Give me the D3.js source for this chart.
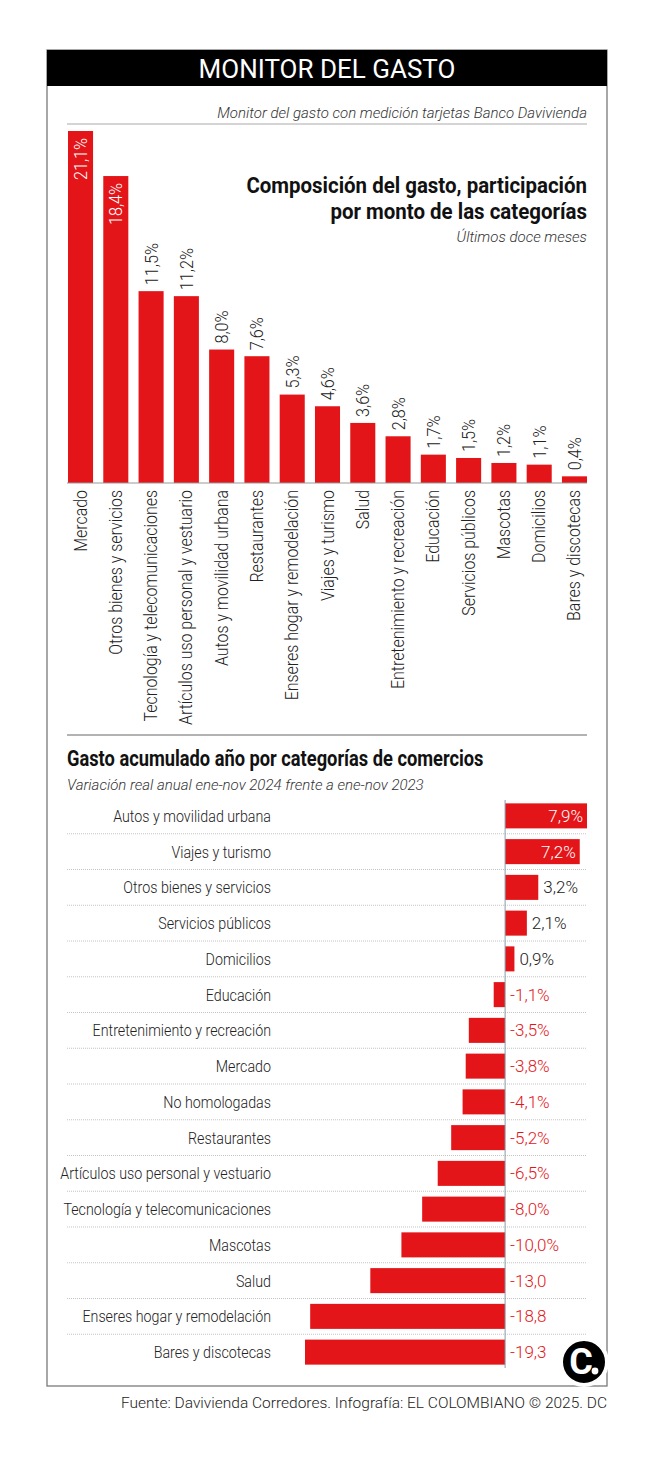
<!DOCTYPE html>
<html>
<head>
<meta charset="utf-8">
<script src="https://cdn.jsdelivr.net/npm/d3@7"></script>
<style>
  body { margin: 0; background: #fff; }
  text { font-family: Roboto, "Noto Sans", sans-serif; }
</style>
</head>
<body>
<div id="chart"></div>
<script>
// Composición del gasto (últimos doce meses)
const compCats = ["Mercado", "Otros bienes y servicios", "Tecnología y telecomunicaciones",
  "Artículos uso personal y vestuario", "Autos y movilidad urbana", "Restaurantes",
  "Enseres hogar y remodelación", "Viajes y turismo", "Salud", "Entretenimiento y recreación",
  "Educación", "Servicios públicos", "Mascotas", "Domicilios", "Bares y discotecas"];
const compVals = [21.1, 18.4, 11.5, 11.2, 8.0, 7.6, 5.3, 4.6, 3.6, 2.8, 1.7, 1.5, 1.2, 1.1, 0.4];

// Variación real anual ene-nov 2024 vs ene-nov 2023
const varCats = ["Autos y movilidad urbana", "Viajes y turismo", "Otros bienes y servicios",
  "Servicios públicos", "Domicilios", "Educación", "Entretenimiento y recreación", "Mercado",
  "No homologadas", "Restaurantes", "Artículos uso personal y vestuario",
  "Tecnología y telecomunicaciones", "Mascotas", "Salud", "Enseres hogar y remodelación",
  "Bares y discotecas"];
const varVals = [7.9, 7.2, 3.2, 2.1, 0.9, -1.1, -3.5, -3.8, -4.1, -5.2, -6.5, -8.0, -10.0, -13.0, -18.8, -19.3];
const varLabels = ["7,9%", "7,2%", "3,2%", "2,1%", "0,9%", "-1,1%", "-3,5%", "-3,8%", "-4,1%",
  "-5,2%", "-6,5%", "-8,0%", "-10,0%", "-13,0", "-18,8", "-19,3"];

const W = 658, H = 1457;
const RED = "#e41519";
const SQ = 0.86; // estrechar el texto para parecer condensado

const svg = d3.select("#chart").append("svg")
  .attr("width", W).attr("height", H);

// texto "condensado": posición + rotación + escala horizontal
const addText = (g, str, x, y, opts = {}) => {
  const rot = opts.rotate ? ` rotate(${opts.rotate})` : "";
  return g.append("text")
    .attr("transform", `translate(${x},${y})${rot} scale(${opts.sq || SQ},1)`)
    .attr("text-anchor", opts.anchor || "start")
    .attr("font-size", opts.size || 16)
    .attr("font-weight", opts.weight || 300)
    .attr("font-style", opts.italic ? "italic" : "normal")
    .attr("fill", opts.fill || "#222")
    .text(str);
};

// marco y cabecera
svg.append("rect").attr("x", 47).attr("y", 50).attr("width", 560).attr("height", 1336)
  .attr("fill", "none").attr("stroke", "#7a7a7a").attr("stroke-width", 1.3);
svg.append("rect").attr("x", 47).attr("y", 50).attr("width", 560).attr("height", 36)
  .attr("fill", "#000");
addText(svg, "MONITOR DEL GASTO", 327, 78, { anchor: "middle", size: 26, weight: 400, fill: "#fff", sq: 1.0 });

addText(svg, "Monitor del gasto con medición tarjetas Banco Davivienda", 587, 118,
  { anchor: "end", size: 15, italic: true, fill: "#333", sq: 1.0 });
svg.append("line").attr("x1", 67).attr("x2", 587).attr("y1", 124).attr("y2", 124)
  .attr("stroke", "#aaa").attr("stroke-width", 1);

// ---- gráfico de columnas ----
const x1 = d3.scaleBand().domain(compCats).range([68, 587]).paddingInner(0.29).paddingOuter(0);
const y1 = d3.scaleLinear().domain([0, 21.1]).range([483, 131]);
const fmt = v => v.toFixed(1).replace(".", ",") + "%";

const colG = svg.append("g");
colG.selectAll("rect").data(compVals).join("rect")
  .attr("x", (d, i) => x1(compCats[i]))
  .attr("y", d => y1(d))
  .attr("width", x1.bandwidth())
  .attr("height", d => y1(0) - y1(d))
  .attr("fill", RED);

svg.append("line").attr("x1", 67).attr("x2", 587).attr("y1", y1(0)).attr("y2", y1(0))
  .attr("stroke", "#999").attr("stroke-width", 1);

compVals.forEach((v, i) => {
  const cx = x1(compCats[i]) + x1.bandwidth() / 2 + 6;
  if (v > 15) {
    addText(colG, fmt(v), cx + 0.5, y1(v) + 7, { rotate: -90, anchor: "end", size: 18, fill: "#fff", sq: 0.9 });
  } else {
    addText(colG, fmt(v), cx + 0.5, y1(v) - 6, { rotate: -90, anchor: "start", size: 18, fill: "#222", sq: 0.9 });
  }
  addText(colG, compCats[i], cx, y1(0) + 7, { rotate: -90, anchor: "end", size: 17.5, fill: "#222", sq: 0.91 });
});

addText(svg, "Composición del gasto, participación", 587, 193, { anchor: "end", size: 22, weight: 700, fill: "#111", sq: 0.93 });
addText(svg, "por monto de las categorías", 587, 219, { anchor: "end", size: 22, weight: 700, fill: "#111", sq: 0.93 });
addText(svg, "Últimos doce meses", 587, 242, { anchor: "end", size: 15, italic: true, fill: "#333", sq: 1.0 });

svg.append("line").attr("x1", 67).attr("x2", 587).attr("y1", 735).attr("y2", 735)
  .attr("stroke", "#666").attr("stroke-width", 1);

// ---- gráfico de barras horizontales ----
addText(svg, "Gasto acumulado año por categorías de comercios", 67, 766, { size: 21.5, weight: 700, fill: "#111", sq: 0.85 });
addText(svg, "Variación real anual ene-nov 2024 frente a ene-nov 2023", 67, 790, { size: 15, italic: true, fill: "#333", sq: 1.0 });

const y2 = d3.scaleBand().domain(varCats).range([798, 1370]).paddingInner(0.3).paddingOuter(0.15);
const x2 = d3.scaleLinear().domain([-19.3, 7.9]).range([305, 587]);

const barG = svg.append("g");

// separadores punteados
barG.selectAll("line.sep").data(varCats.slice(0, -1)).join("line")
  .attr("class", "sep")
  .attr("x1", 67).attr("x2", 587)
  .attr("y1", d => y2(d) + y2.bandwidth() + (y2.step() - y2.bandwidth()) / 2)
  .attr("y2", d => y2(d) + y2.bandwidth() + (y2.step() - y2.bandwidth()) / 2)
  .attr("stroke", "#aaa").attr("stroke-width", 0.7).attr("stroke-dasharray", "1,1");

barG.selectAll("rect").data(varVals).join("rect")
  .attr("x", d => x2(Math.min(0, d)))
  .attr("y", (d, i) => y2(varCats[i]))
  .attr("width", d => Math.abs(x2(d) - x2(0)))
  .attr("height", y2.bandwidth())
  .attr("fill", RED);

barG.append("line")
  .attr("x1", x2(0)).attr("x2", x2(0)).attr("y1", 800).attr("y2", 1368)
  .attr("stroke", "#8a9aa6").attr("stroke-width", 1);

varVals.forEach((v, i) => {
  const cy = y2(varCats[i]) + y2.bandwidth() / 2 + 6;
  addText(barG, varCats[i], 271, cy, { anchor: "end", size: 17, fill: "#222", sq: 0.84 });
  if (v >= 5) {
    addText(barG, varLabels[i], x2(v) - 4, cy, { anchor: "end", size: 17, fill: "#fff", sq: 1.0 });
  } else if (v >= 0) {
    addText(barG, varLabels[i], x2(v) + 5, cy, { anchor: "start", size: 17, fill: "#222", sq: 1.0 });
  } else {
    addText(barG, varLabels[i], x2(0) + 5, cy, { anchor: "start", size: 17, fill: RED, sq: 1.0 });
  }
});

// logo
svg.append("circle").attr("cx", 584).attr("cy", 1362).attr("r", 23)
  .attr("fill", "#000").attr("stroke", "#fff").attr("stroke-width", 4);
svg.append("text").attr("x", 581).attr("y", 1374).attr("text-anchor", "middle")
  .attr("font-family", "Liberation Serif").attr("font-weight", 700).attr("font-size", 36)
  .attr("fill", "#fff").text("C");
svg.append("circle").attr("cx", 595).attr("cy", 1371).attr("r", 3.4).attr("fill", "#fff");

// fuente
addText(svg, "Fuente: Davivienda Corredores. Infografía: EL COLOMBIANO © 2025. DC", 607, 1408,
  { anchor: "end", size: 15.5, fill: "#222", sq: 1.0 });
</script>
</body>
</html>
